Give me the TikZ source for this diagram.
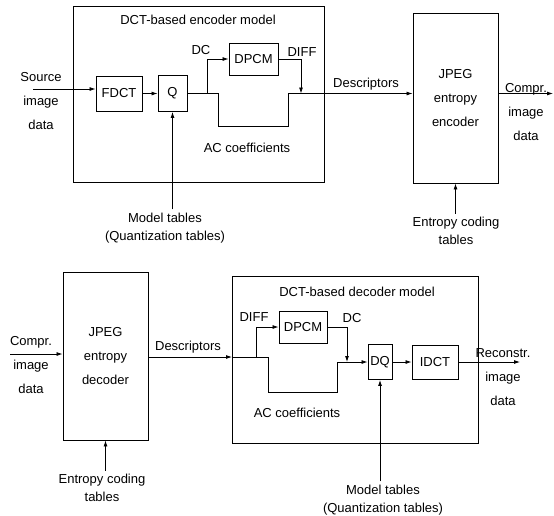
\documentclass[tikz,border=0pt]{standalone}
\usepackage{fontspec}
\setmainfont{Liberation Sans}
\usetikzlibrary{arrows.meta}
\begin{document}
\begin{tikzpicture}[x=1pt,y=-1pt,
  font=\fontsize{13}{24}\selectfont,
  blk/.style={draw,line width=0.9pt,inner sep=0pt,align=center},
  arr/.style={line width=0.8pt,-{Latex[length=6pt,width=4pt]}},
  tbl/.style={align=center,font=\fontsize{13}{18}\selectfont}]
\useasboundingbox (0,0) rectangle (554,515);
% encoder side
\node[blk,minimum width=251,minimum height=176] (enc) at (198.5,94) {};
\node (enctitle) at (198,20) {DCT-based encoder model};
\node[blk,minimum width=46,minimum height=35] (fdct) at (119,93.5) {FDCT};
\node[blk,minimum width=29,minimum height=36] (q) at (172.5,93.5) {Q};
\node[blk,minimum width=49,minimum height=32] (dpcm) at (253.5,59) {DPCM};
\node[blk,minimum width=85,minimum height=170] (jenc) at (455.5,98) {JPEG\\entropy\\encoder};
\node[align=center] (src) at (41,101.5) {Source\\image\\data};
\coordinate (srcin) at (33,89);
\draw[arr] (srcin) -- (fdct.west |- srcin);
\draw[arr] (fdct.east) -- (q.west);
\coordinate (dcfork) at (207,93.5);
\coordinate (acleft) at (218,126);
\coordinate (acright) at (288,126);
\draw[arr] (q.east) -| (acleft) -- (acright) |- (jenc.west |- q.east);
\draw[arr] (dcfork) |- (dpcm.west);
\coordinate (diffjoin) at (301,93.5);
\draw[arr] (dpcm.east) -| (diffjoin);
\node (dc) at (201,50) {DC};
\node (diff) at (302,52) {DIFF};
\node (desc) at (366,84) {Descriptors};
\node (ac) at (247,148) {AC coefficients};
\coordinate (cout) at (553,93.5);
\draw[arr] (jenc.east |- cout) -- (cout);
\node[align=center] (compr) at (526,112) {Compr.\\image\\data};
\node[tbl] (etab) at (456,231) {Entropy coding\\tables};
\draw[arr] (etab.north -| jenc.south) -- (jenc.south);
\node[tbl] (mtab) at (165,228) {Model tables\\(Quantization tables)};
\draw[arr] (q.south |- mtab.north) -- (q.south);
% decoder side
\node[blk,minimum width=85,minimum height=168] (jdec) at (105.5,356) {JPEG\\entropy\\decoder};
\node[blk,minimum width=246,minimum height=167] (dec) at (355,359.5) {};
\node (dectitle) at (357,292) {DCT-based decoder model};
\node[blk,minimum width=48,minimum height=32] (idpcm) at (303,327) {DPCM};
\node[blk,minimum width=24,minimum height=35] (dq) at (380,362) {DQ};
\node[blk,minimum width=46,minimum height=34] (idct) at (435,362) {IDCT};
\node[align=center] (cin) at (31,365) {Compr.\\image\\data};
\coordinate (cinstart) at (10,354);
\draw[arr] (cinstart) -- (jdec.west |- cinstart);
\coordinate (descin) at (232,357);
\draw[arr] (jdec.east |- descin) -- (descin);
\coordinate (difffork) at (256,357);
\coordinate (acleft2) at (268,392);
\coordinate (acright2) at (337,392);
\draw[arr] (descin) -| (acleft2) -- (acright2) |- (dq.west);
\draw[arr] (difffork) |- (idpcm.west);
\coordinate (dcjoin) at (347,362);
\draw[arr] (idpcm.east) -| (dcjoin);
\draw[arr] (dq.east) -- (idct.west);
\coordinate (rout) at (520,362);
\draw[arr] (idct.east) -- (rout);
\node (diff2) at (254,317) {DIFF};
\node (dc2) at (352,318) {DC};
\node (desc2) at (188,347) {Descriptors};
\node (ac2) at (297,413) {AC coefficients};
\node[align=center] (recon) at (503,377) {Reconstr.\\image\\data};
\node[tbl] (etab2) at (102,488) {Entropy coding\\tables};
\draw[arr] (etab2.north -| jdec.south) -- (jdec.south);
\node[tbl] (mtab2) at (383,500) {Model tables\\(Quantization tables)};
\draw[arr] (dq.south |- mtab2.north) -- (dq.south);
\end{tikzpicture}
\end{document}
